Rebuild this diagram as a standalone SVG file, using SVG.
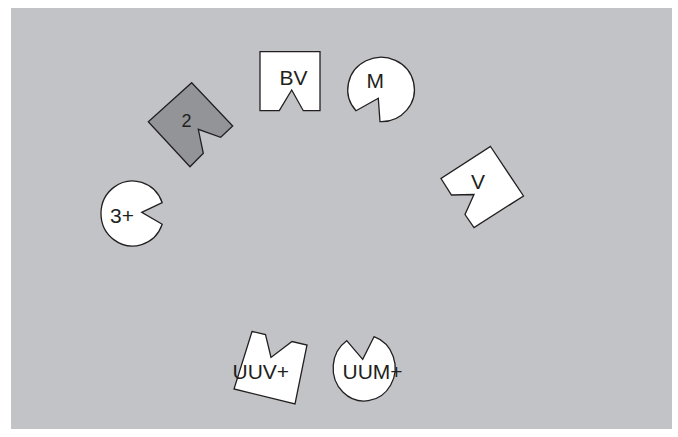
<svg xmlns="http://www.w3.org/2000/svg" width="678" height="437" viewBox="0 0 678 437">
  <style>
    .shape { fill: #ffffff; stroke: #231f20; stroke-width: 1.3; stroke-linejoin: miter; }
    .dark { fill: #939498; }
    .lbl { font-family: "Liberation Sans", Arial, sans-serif; font-size: 21px; fill: #231f20; }
  </style>
  <rect x="0" y="0" width="678" height="437" fill="#ffffff"/>
  <rect x="11" y="8" width="661" height="421" fill="#c2c3c7"/>
  <g id="connectors"></g>
  <g id="node-2">
    <path class="shape dark" d="M191.7,82.7 L232.7,126 L220.7,137.3 L198.3,129.3 L203.3,153.3 L190,166.7 L148.3,121.7 Z"/>
    <text class="lbl" x="181.5" y="127.3" style="font-size:18px">2</text>
  </g>
  <g id="node-BV">
    <path class="shape" d="M260,51.7 L320,51.7 L320,110.7 L303.3,110.7 L291.7,90 L279.3,110.7 L260,110.7 Z"/>
    <text class="lbl" x="279.5" y="85">BV</text>
  </g>
  <g id="node-M">
    <path class="shape" d="M356,110.7 L378.3,98.3 L380,121.7 A33.3 32.2 0 1 0 356,110.7 Z"/>
    <text class="lbl" x="366.5" y="87.5">M</text>
  </g>
  <g id="node-V">
    <path class="shape" d="M490.5,146.5 L523.5,196 L474,227.5 L465,214.5 L474,194.5 L451.5,195 L441,178.5 Z"/>
    <text class="lbl" x="471" y="189">V</text>
  </g>
  <g id="node-3plus">
    <path class="shape" d="M162.2,202.7 L141.7,212.3 L162.2,224.3 A31.5 32.5 0 1 1 162.2,202.7 Z"/>
    <text class="lbl" x="110" y="223">3+</text>
  </g>
  <g id="node-UUVplus">
    <path class="shape" d="M252,331.5 L265.5,334.5 L271,357.5 L292,341.5 L307,345 L295,404 L234,389 Z"/>
    <text class="lbl" x="232.5" y="378.5">UUV+</text>
  </g>
  <g id="node-UUMplus">
    <path class="shape" d="M346.7,340.7 L362.7,359.3 L374,336.7 A31 33 0 1 1 346.7,340.7 Z"/>
    <text class="lbl" x="342.5" y="378.5">UUM+</text>
  </g>
</svg>
